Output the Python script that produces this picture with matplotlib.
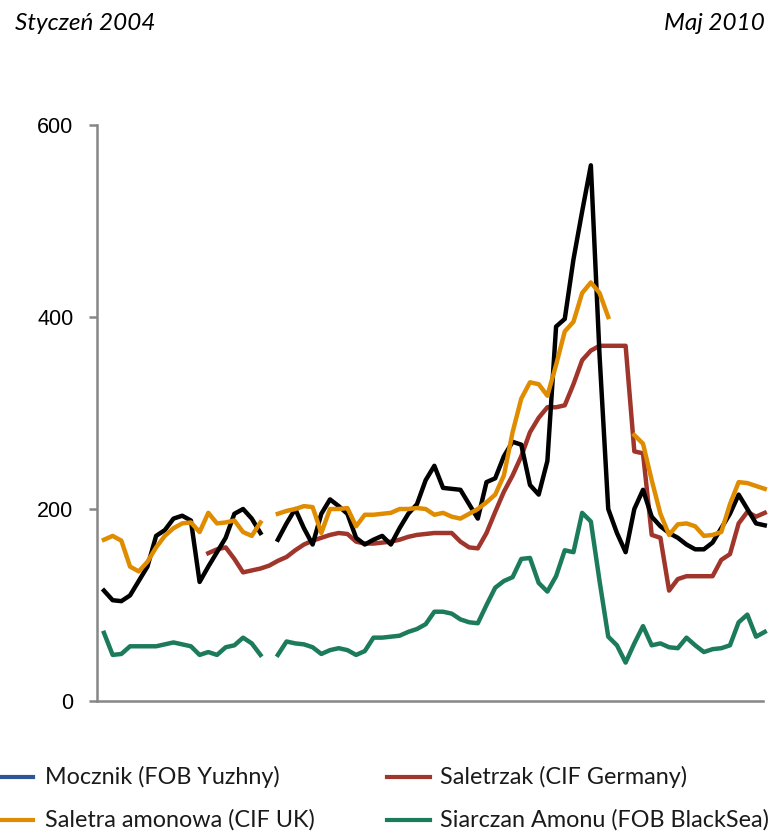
import numpy as np
import matplotlib
matplotlib.use("Agg")
import matplotlib.pyplot as plt
from matplotlib.lines import Line2D

nan = np.nan
months = np.arange(77)  # Jan 2004 .. May 2010

mocznik = [115, 105, 104, 110, 125, 140, 172, 178, 190, 193, 188, 124, 140, 155, 170, 195, 200, 190, 175, nan,
           168, 185, 200, 180, 163, 195, 210, 203, 195, 170, 163, 168, 172, 163, 180, 195, 205, 230, 245, 222,
           221, 220, 205, 190, 228, 232, 255, 270, 267, 225, 215, 250, 390, 398, 460, 510, 558, 360, 200, 175,
           155, 200, 220, 192, 182, 175, 170, 163, 158, 158, 165, 180, 195, 215, 200, 185, 183]

saletra = [168, 172, 167, 140, 135, 145, 160, 172, 180, 185, 186, 176, 196, 185, 186, 188, 176, 172, 186, nan,
           195, 198, 200, 203, 202, 175, 200, 200, 201, 182, 194, 194, 195, 196, 200, 200, 201, 200, 194, 196,
           192, 190, 195, 200, 207, 215, 235, 280, 315, 332, 330, 318, 350, 385, 395, 425, 436, 425, 400, nan,
           nan, 277, 268, 230, 195, 173, 184, 185, 182, 172, 173, 176, 205, 228, 227, 224, 221]

saletrzak = [nan] * 12 + [154, 158, 160, 148, 134, 136, 138, 141, 146, 150, 157, 163, 167, 170, 173, 175, 174, 166,
              164, 164, 165, 166, 168, 171, 173, 174, 175, 175, 175, 166, 160, 159, 175, 197, 218, 235, 255, 280,
              295, 306, 306, 308, 330, 355, 365, 370, 370, 370, 370, 260, 258, 173, 170, 115, 127, 130, 130, 130,
              130, 147, 153, 185, 197, 192, 196]

siarczan = [71, 48, 49, 57, 57, 57, 57, 59, 61, 59, 57, 48, 51, 48, 56, 58, 66, 60, 48, nan,
            48, 62, 60, 59, 56, 49, 53, 55, 53, 48, 52, 66, 66, 67, 68, 72, 75, 80, 93, 93,
            91, 85, 82, 81, 100, 118, 125, 129, 148, 149, 123, 114, 130, 157, 155, 196, 187, 125, 67, 58,
            40, 60, 78, 58, 60, 56, 55, 66, 58, 51, 54, 55, 58, 82, 90, 67, 72]

labels = ["Mocznik (FOB Yuzhny)", "Saletrzak (CIF Germany)",
          "Saletra amonowa (CIF UK)", "Siarczan Amonu (FOB BlackSea)"]
yticks = [0, 200, 400, 600]

c_black = "#000000"
c_blue = "#2F5597"
c_red = "#A0352B"
c_orange = "#E08C00"
c_green = "#1B7B5A"

fig = plt.figure(figsize=(7.82, 8.36), dpi=100)
ax = fig.add_axes([97 / 782, 1 - 701 / 836, (763 - 97) / 782, (701 - 125) / 836])

lw = 3.2
ax.plot(months, siarczan, color=c_green, lw=lw, clip_on=False, solid_joinstyle="round")
ax.plot(months, saletrzak, color=c_red, lw=lw, clip_on=False, solid_joinstyle="round")
ax.plot(months, mocznik, color=c_black, lw=lw, clip_on=False, solid_joinstyle="round")
ax.plot(months, saletra, color=c_orange, lw=lw, clip_on=False, solid_joinstyle="round")

ax.set_xlim(-0.8, 75.8)
ax.set_ylim(0, 600)
ax.set_yticks(yticks)
ax.set_yticklabels([str(v) for v in yticks], fontsize=15.5, family="Liberation Sans")
ax.set_xticks([])
for s in ["top", "right"]:
    ax.spines[s].set_visible(False)
for s in ["left", "bottom"]:
    ax.spines[s].set_color("#868686")
    ax.spines[s].set_linewidth(1.8)
ax.tick_params(axis="y", direction="out", length=6, width=1.8, color="#868686", pad=11)

fig.text(15 / 782, 1 - 24 / 836, "Styczeń 2004", style="italic", fontsize=17.5,
         family="Lato", va="center", ha="left")
fig.text(765 / 782, 1 - 24 / 836, "Maj 2010", style="italic", fontsize=17.5,
         family="Lato", va="center", ha="right")

handle_colors = [c_blue, c_red, c_orange, c_green]
rows = [777, 820]
cols = [(0, 33, 45), (387, 430, 440)]
k = 0
for r in rows:
    for (x0, x1, xt) in cols:
        y = 1 - r / 836
        fig.add_artist(Line2D([x0 / 782, x1 / 782], [y, y], color=handle_colors[k], lw=3,
                              transform=fig.transFigure))
        fig.text(xt / 782, y, labels[k], fontsize=16.8, family="Lato", va="center", ha="left",
                 color="#1a1a1a")
        k += 1

fig.savefig("out.png", dpi=100)
